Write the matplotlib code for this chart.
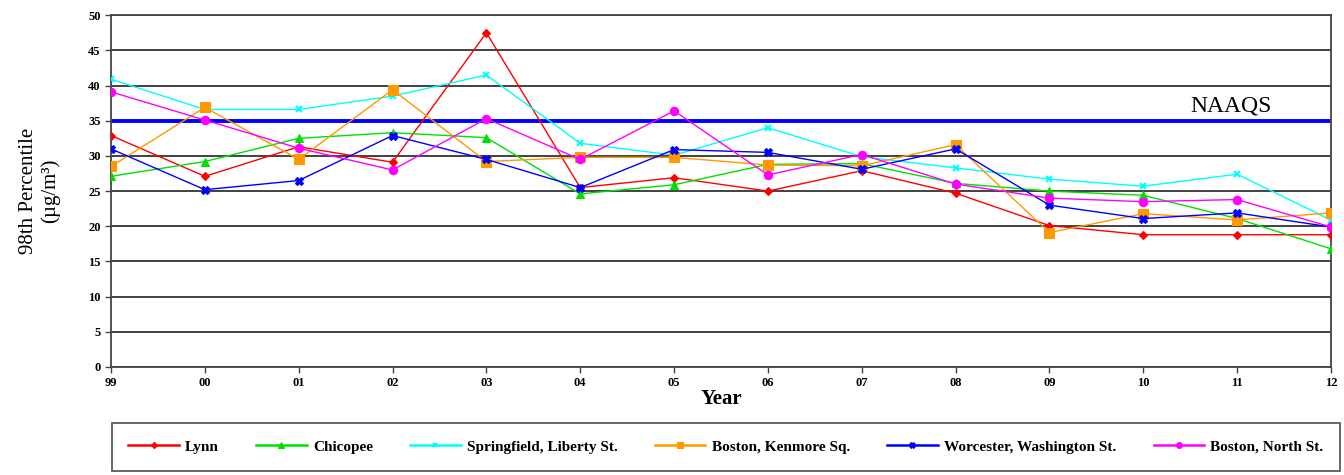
import matplotlib
matplotlib.use("Agg")
import matplotlib.pyplot as plt

years = ["99", "00", "01", "02", "03", "04", "05", "06", "07", "08", "09", "10", "11", "12"]
lynn = [32.9, 27.1, 31.3, 29.1, 47.5, 25.5, 26.9, 25.0, 27.9, 24.7, 20.1, 18.8, 18.8, 18.8]
chicopee = [27.1, 29.2, 32.5, 33.3, 32.6, 24.6, 25.9, 28.8, 28.9, 26.1, 25.0, 24.4, 21.1, 16.8]
springfield = [40.9, 36.6, 36.6, 38.5, 41.5, 31.8, 30.1, 34.0, 29.9, 28.3, 26.7, 25.7, 27.4, 20.9]
kenmore = [28.5, 36.9, 29.5, 39.4, 29.2, 29.8, 29.8, 28.7, 28.6, 31.6, 19.1, 21.8, 20.9, 21.9]
worcester = [31.0, 25.2, 26.5, 32.9, 29.5, 25.5, 30.9, 30.5, 28.1, 31.0, 23.0, 21.1, 21.9, 19.9]
north = [39.1, 35.1, 31.1, 28.0, 35.3, 29.5, 36.4, 27.3, 30.2, 26.0, 24.0, 23.5, 23.8, 19.9]
naaqs = 35

series = [
    ("Lynn", lynn, "#FF0000", "D", 4.5),
    ("Chicopee", chicopee, "#00E000", "^", 5.5),
    ("Springfield, Liberty St.", springfield, "#00FFFF", "x", 5),
    ("Boston, Kenmore Sq.", kenmore, "#FF9900", "s", 6.5),
    ("Worcester, Washington St.", worcester, "#0000FF", "X", 5.5),
    ("Boston, North St.", north, "#FF00FF", "o", 6),
]

serif = ["Liberation Serif", "DejaVu Serif"]
fig = plt.figure(figsize=(13.44, 4.75), dpi=100)
ax = fig.add_axes([0.0826, 0.2274, 0.9077, 0.7406])

x = list(range(len(years)))
ax.axhline(naaqs, color="#0000FF", lw=2.8, zorder=2)
for name, vals, c, m, ms in series:
    ax.plot(x, vals, color=c, marker=m, ms=ms, lw=1.0, label=name, zorder=3,
            markeredgewidth=1.5 if m == "x" else 0.8)

ax.set_xlim(0, len(years) - 1)
ax.set_ylim(0, 50)
ax.set_yticks(range(0, 51, 5))
ax.set_xticks(x)
ax.set_xticklabels(years)
ax.yaxis.grid(True, color="#333333", lw=1.3)
ax.set_axisbelow(True)
for s in ax.spines.values():
    s.set_color("#444444")
    s.set_linewidth(1.3)
ax.tick_params(axis="both", length=4, width=1, color="#444444", labelsize=9)
for lab in ax.get_xticklabels() + ax.get_yticklabels():
    lab.set_fontfamily(serif)
    lab.set_fontweight("bold")

ax.set_ylabel("98th Percentile\n(µg/m³)", family=serif, fontsize=15, labelpad=20)
ax.set_xlabel("Year", family=serif, fontsize=15, fontweight="bold", labelpad=0)
ax.text(11.5, 35.6, "NAAQS", family=serif, fontsize=17, ha="left", va="bottom")

leg = fig.legend(loc="upper left", bbox_to_anchor=(0.083, 0.109, 0.914, 0.0), mode="expand",
                 ncol=6, frameon=True, fancybox=False, edgecolor="#333333",
                 prop={"family": serif, "weight": "bold", "size": 11},
                 handlelength=3.3, handletextpad=0.4, markerscale=0.7, borderpad=1.1,
                 borderaxespad=0)
leg.get_frame().set_linewidth(1.3)
for ln in leg.get_lines():
    ln.set_linewidth(1.8)

fig.savefig("out.png", dpi=100)
